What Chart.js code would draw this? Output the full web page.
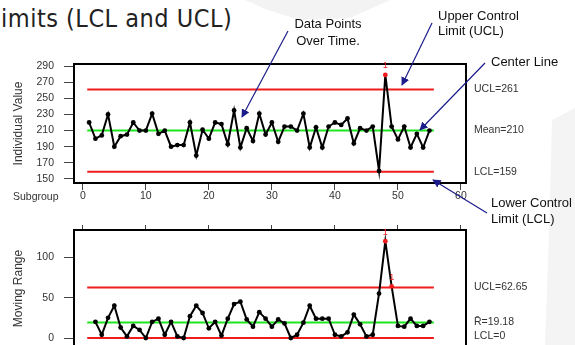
<!DOCTYPE html>
<html>
<head>
<meta charset="utf-8">
<script src="https://cdn.jsdelivr.net/npm/chart.js@4.4.0/dist/chart.umd.min.js"></script>
<style>
  html, body { margin:0; padding:0; width:575px; height:345px; overflow:hidden; background:#fff; }
  #wrap { position:relative; width:575px; height:345px; overflow:hidden; }
  #bg, #arrows { position:absolute; left:0; top:0; }
  #cTop { position:absolute; left:0; top:0; }
  #cMr { position:absolute; left:0; top:200px; }
  #title { position:absolute; left:1px; top:4px; font:25px "DejaVu Sans Condensed","DejaVu Sans",sans-serif; letter-spacing:0.5px; color:#222; white-space:nowrap; }
  .note { position:absolute; font:13px "Liberation Sans",Arial,sans-serif; color:#111; white-space:nowrap; }
</style>
</head>
<body>
<div id="wrap">
  <svg id="bg" width="575" height="345">
    <polygon points="245,0 390,0 350,18 300,20 268,10" fill="#f3f3f3"/>
    <polygon points="552,120 575,108 575,345 545,345 549,235" fill="#f4f4f4"/>
  </svg>
  <div id="title">imits (LCL and UCL)</div>
  <canvas id="cTop" width="575" height="210"></canvas>
  <canvas id="cMr" width="575" height="147"></canvas>
  <svg id="arrows" width="575" height="345">
    <defs>
      <marker id="head" viewBox="0 0 10 10" refX="9" refY="5" markerWidth="7" markerHeight="7" orient="auto">
        <path d="M0,0 L10,5 L0,10 z" fill="#1c1c8a"/>
      </marker>
    </defs>
    <g stroke="#1c1c8a" stroke-width="1.2" fill="none" marker-end="url(#head)">
      <line x1="288" y1="31" x2="242" y2="117"/>
      <line x1="432" y1="23" x2="402" y2="85"/>
      <line x1="485" y1="63" x2="420" y2="130"/>
      <line x1="487" y1="213" x2="433" y2="180"/>
    </g>
  </svg>
  <div class="note" style="left:291px;top:15px;width:74px;text-align:center;line-height:17px">Data Points<br>Over Time.</div>
  <div class="note" style="left:438px;top:8px;line-height:15px">Upper Control<br>Limit (UCL)</div>
  <div class="note" style="left:491px;top:54px;line-height:15px">Center Line</div>
  <div class="note" style="left:491px;top:195px;line-height:16px">Lower Control<br>Limit (LCL)</div>
</div>
<script>
  // values
  var subgroupTicks = [0, 10, 20, 30, 40, 50, 60];
  var indivTicks = [150, 170, 190, 210, 230, 250, 270, 290];
  var mrTicks = [0, 50, 100];

  var individual = [220,200,204,230,190,203,205,220,210,210,
                    231,206,210,190,192,192,220,179,211,200,
                    220,218,193,235,189,213,197,231,205,220,
                    196,215,215,210,231,189,214,189,215,220,
                    217,225,194,213,210,215,160,279,215,199,
                    215,189,206,189,210];
  var movingRange = [null,20,4,25,40,13,2,15,10,0,
                     20,24,4,20,2,0,27,40,31,12,
                     20,3,24,42,45,23,14,32,24,14,
                     23,18,0,4,19,40,24,24,24,4,
                     2,7,29,17,2,4,55,120,64,15,
                     14,24,15,15,20];

  var indivLimitValues = [261, 210, 159];
  var indivLimitLabels = ['UCL=261', 'Mean=210', 'LCL=159'];
  var mrLimitValues = [62.65, 19.18, 0];
  var mrLimitLabels = ['UCL=62.65', 'R\u0304=19.18', 'LCL=0'];
  var limitSpan = [0.7, 55.7];
  var indivFlagged = [48];
  var mrFlagged = [48, 49];

  var RED = '#f01c1c', GREEN = '#1ee61e', INK = '#333';
  var limitColors = [RED, GREEN, RED];
  Chart.defaults.font.family = '"Liberation Sans", Arial, sans-serif';

  function toPoints(arr){
    var out = [];
    for (var i=0;i<arr.length;i++) if (arr[i] !== null) out.push({x:i+1, y:arr[i]});
    return out;
  }
  function fixTicks(values){
    return function(s){ s.ticks = values.map(function(v){ return {value:v}; }); };
  }

  function buildDatasets(series, flagged, limits){
    var first = series[0] === null ? 2 : 1;
    var sets = [{
      data: toPoints(series), borderColor:'#000', borderWidth:2, tension:0,
      pointRadius:2.4, pointBorderWidth:0,
      pointBackgroundColor: function(c){ return flagged.indexOf(c.dataIndex + first) >= 0 ? RED : '#000'; }
    }];
    for (var i=0;i<limits.length;i++){
      sets.push({
        data:[{x:limitSpan[0], y:limits[i]}, {x:limitSpan[1], y:limits[i]}],
        borderColor: limitColors[i], borderWidth:2, pointRadius:0
      });
    }
    return sets;
  }

  var extras = {
    id:'extras',
    afterDraw: function(chart){
      var o = chart.options.plugins.extras, ctx = chart.ctx, a = chart.chartArea;
      var ys = chart.scales.y;
      ctx.save();
      ctx.strokeStyle = '#000'; ctx.lineWidth = 2;
      ctx.strokeRect(a.left, a.top, a.right - a.left, a.bottom - a.top);
      ctx.font = '10.5px "Liberation Sans", Arial, sans-serif';
      ctx.fillStyle = INK; ctx.textAlign = 'left'; ctx.textBaseline = 'middle';
      for (var i=0;i<o.labels.length;i++){
        ctx.fillText(o.labels[i], a.right + 8, ys.getPixelForValue(o.values[i]) + (o.shift[i]||0));
      }
      if (o.subgroup) ctx.fillText('Subgroup', 13, a.bottom + 14);
      var meta = chart.getDatasetMeta(0), off = o.first;
      ctx.fillStyle = RED; ctx.font = '9px "Liberation Sans", Arial, sans-serif'; ctx.textAlign = 'center';
      for (var j=0;j<o.flagged.length;j++){
        var el = meta.data[o.flagged[j] - off];
        if (el) ctx.fillText('1', el.x, el.y - 9);
      }
      ctx.restore();
    }
  };

  function axisX(position, showLabels, tickLen, height){
    return {
      type:'linear', position:position, min:-1.4, max:60.8,
      afterBuildTicks: fixTicks(subgroupTicks),
      afterFit: function(s){ s.height = height; s.paddingLeft = 0; s.paddingRight = 0; },
      border:{display:false},
      grid:{drawOnChartArea:false, drawTicks:true, tickLength:tickLen, color:'#444', lineWidth:1},
      ticks:{display:showLabels, padding:0, maxRotation:0, autoSkip:false, color:INK, font:{size:10.5}}
    };
  }
  function axisY(min, max, ticks, title){
    return {
      type:'linear', min:min, max:max,
      afterBuildTicks: fixTicks(ticks),
      afterFit: function(s){ s.width = 74; s.paddingTop = 0; s.paddingBottom = 0; },
      border:{display:false},
      grid:{drawOnChartArea:false, drawTicks:true, tickLength:10, color:'#444', lineWidth:1},
      ticks:{padding:10, color:INK, font:{size:10.5}},
      title:{display:true, text:title, color:INK, font:{size:12}, padding:{top:11, bottom:0}}
    };
  }

  new Chart(document.getElementById('cTop'), {
    type:'line',
    data:{ datasets: buildDatasets(individual, indivFlagged, indivLimitValues) },
    options:{
      responsive:false, animation:false,
      layout:{ autoPadding:false, padding:{left:0, right:109, top:64, bottom:0} },
      plugins:{ legend:{display:false}, tooltip:{enabled:false},
        extras:{ labels:indivLimitLabels, values:indivLimitValues, shift:[0,0,0], subgroup:true, flagged:indivFlagged, first:1 } },
      scales:{ x: axisX('bottom', true, 7, 27), y: axisY(145, 292.5, indivTicks, 'Individual Value') }
    },
    plugins:[extras]
  });

  new Chart(document.getElementById('cMr'), {
    type:'line',
    data:{ datasets: buildDatasets(movingRange, mrFlagged, mrLimitValues) },
    options:{
      responsive:false, animation:false,
      layout:{ autoPadding:false, padding:{left:0, right:109, top:25, bottom:0} },
      plugins:{ legend:{display:false}, tooltip:{enabled:false},
        extras:{ labels:mrLimitLabels, values:mrLimitValues, shift:[0,0,-1.5], subgroup:false, flagged:mrFlagged, first:2 } },
      scales:{ x: axisX('top', false, 5, 5), y: axisY(-11.15, 133.8, mrTicks, 'Moving Range') }
    },
    plugins:[extras]
  });
</script>
</body>
</html>
